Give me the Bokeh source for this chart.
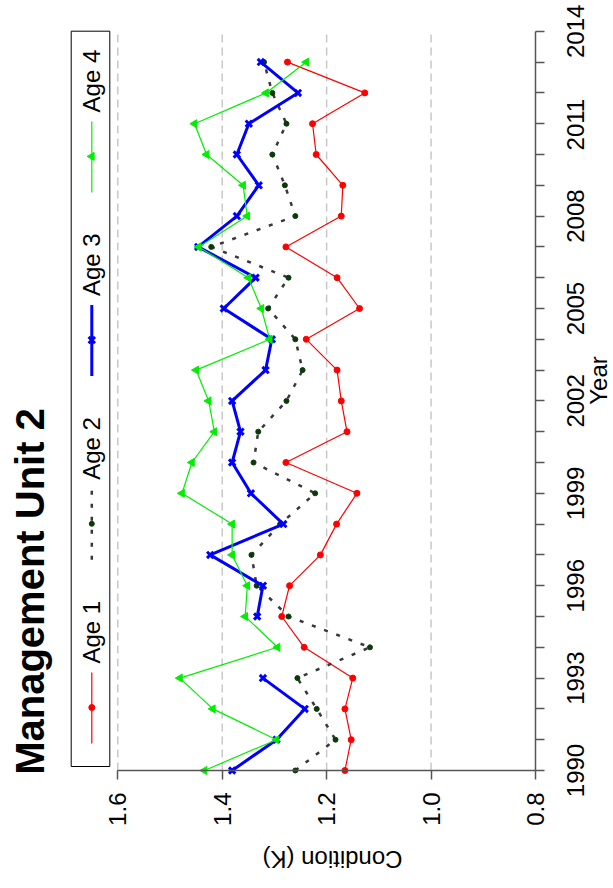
import numpy as np
from bokeh.plotting import figure
from bokeh.models import (Range1d, LinearAxis, FixedTicker, Label, NumeralTickFormatter,
                          CustomJSTickFormatter)
from bokeh.core.properties import value
from bokeh.embed import file_html
from bokeh.resources import INLINE

# ---------------- data ----------------
years = list(range(1990, 2014))
age1 = [1.165, 1.153, 1.165, 1.150, 1.243, 1.286, 1.271, 1.212, 1.181, 1.142, 1.278, 1.161,
        1.172, 1.180, 1.239, 1.137, 1.180, 1.278, 1.172, 1.169, 1.220, 1.227, 1.127, 1.275]
age2 = [1.260, 1.183, 1.219, 1.256, 1.117, 1.273, 1.334, 1.344, 1.289, 1.222, 1.340, 1.331,
        1.277, 1.246, 1.260, 1.312, 1.273, 1.421, 1.260, 1.280, 1.304, 1.277, 1.304, 1.320]
age3 = [1.381, 1.296, 1.242, 1.322, float("nan"), 1.333, 1.322, 1.423, 1.283, 1.345, 1.381, 1.365,
        1.381, 1.317, 1.305, 1.397, 1.336, 1.446, 1.372, 1.330, 1.372, 1.349, 1.255, 1.326]
age4 = [1.434, 1.296, 1.418, 1.481, 1.294, 1.356, 1.352, 1.381, 1.381, 1.477, 1.458, 1.415,
        1.426, 1.450, 1.309, 1.325, 1.350, 1.445, 1.352, 1.360, 1.430, 1.453, 1.316, 1.239]
series_names = ["Age 1", "Age 2", "Age 3", "Age 4"]
cond_ticks = [0.8, 1.0, 1.2, 1.4, 1.6]
grid_vals = [1.0, 1.2, 1.4, 1.6]
year_labels = [1990, 1993, 1996, 1999, 2002, 2005, 2008, 2011, 2014]
year_ticks = list(range(1990, 2015))
title_text = "Management Unit 2"
xlab_text = "Year"
ylab_text = "Condition (K)"

# ---------------- layout helpers (canvas pixels -> data) ----------------
W, H = 613, 888
PX_16, PX_PER_K = 117.3, 522.1
PY_1990, PY_PER_YEAR = 770.0, 30.8


def kx(px):
    return 1.6 - (px - PX_16) / PX_PER_K


def yy(py):
    return 1990 + (PY_1990 - py) / PY_PER_YEAR


# the plotting frame covers the whole canvas; axes are pinned with fixed_location
p = figure(width=W, height=H, output_backend="svg", toolbar_location=None,
           x_range=Range1d(kx(0), kx(W)), y_range=Range1d(yy(H), yy(0)),
           x_axis_location=None, y_axis_location=None,
           min_border_left=0, min_border_right=0, min_border_top=0, min_border_bottom=0)
p.grid.grid_line_color = None
p.outline_line_color = None
p.background_fill_color = "white"
p.border_fill_color = "white"

FONT = "Liberation Sans"
AX = "#555555"


def style_axis(ax, standoff, tick_out):
    ax.axis_line_color = AX
    ax.axis_line_width = 1.5
    ax.major_tick_line_color = AX
    ax.major_tick_line_width = 1.5
    ax.minor_tick_line_color = None
    ax.major_tick_in = 0
    ax.major_tick_out = tick_out
    ax.major_label_text_font = FONT
    ax.major_label_text_font_size = "24px"
    ax.major_label_text_color = "black"
    ax.major_label_orientation = np.pi / 2
    ax.major_label_standoff = standoff


# Condition axis (drawn along the bottom)
xaxis = LinearAxis(ticker=FixedTicker(ticks=cond_ticks), bounds=(0.8, 1.6),
                   formatter=NumeralTickFormatter(format="0.0"), fixed_location=1990)
style_axis(xaxis, 13, 9)
p.add_layout(xaxis, "below")

# Year axis: line + a tick for every year
yaxis = LinearAxis(ticker=FixedTicker(ticks=year_ticks), bounds=(1990, 2014),
                   formatter=CustomJSTickFormatter(code="return '';"), fixed_location=0.8)
style_axis(yaxis, 0, 9)
p.add_layout(yaxis, "right")

# Year labels every 3 years, centred on their ticks (text runs upward from its anchor)
half_label = 26.7 / PY_PER_YEAR
ylab_axis = LinearAxis(ticker=FixedTicker(ticks=[y - half_label for y in year_labels]),
                       formatter=CustomJSTickFormatter(
                           code="return Math.round(tick + %r).toFixed(0);" % half_label),
                       fixed_location=0.8)
style_axis(ylab_axis, 40, 0)
ylab_axis.axis_line_color = None
ylab_axis.major_tick_line_color = None
p.add_layout(ylab_axis, "right")

# dashed grid lines
p.segment(x0=grid_vals, y0=[1990] * len(grid_vals), x1=grid_vals, y1=[2014] * len(grid_vals),
          line_color="#c8c8c8", line_dash="8 5", line_width=1.5)

# series styles
RED, DG, DOT, BLUE, GREEN = "#ff0000", "#0a3a0a", "#383838", "#0000ff", "#00ee00"

p.line(age1, years, line_color=RED, line_width=1.2)
p.scatter(age1, years, marker="circle", size=6, color=RED)

p.line(age2, years, line_color=DOT, line_width=2.5, line_dash="4 9")
p.scatter(age2, years, marker="circle", size=5, color=DG)

p.line(age3, years, line_color=BLUE, line_width=3)
p.scatter(age3, years, marker="x", size=9, line_color=BLUE, line_width=3)

p.line(age4, years, line_color=GREEN, line_width=1.2)
p.scatter(age4, years, marker="triangle", size=8, angle=np.pi / 2, color=GREEN)

# legend (drawn rotated, like the reference)
p.quad(left=kx(70.7), right=kx(109.3), bottom=yy(766), top=yy(30.7),
       fill_color="white", line_color="black", line_width=1)
styles = [
    dict(lc=RED, lw=1.2, dash="solid", marker="circle", mc=RED, ms=6),
    dict(lc=DOT, lw=2.5, dash="4 9", marker="circle", mc=DG, ms=5),
    dict(lc=BLUE, lw=3, dash="solid", marker="x", mc=BLUE, ms=9),
    dict(lc=GREEN, lw=1.2, dash="solid", marker="triangle", mc=GREEN, ms=8),
]
for i, (name, st) in enumerate(zip(series_names, styles)):
    my = 707 - 183.7 * i
    lx = kx(91.3)
    p.line([lx, lx], [yy(my + 36), yy(my - 35)], line_color=st["lc"], line_width=st["lw"],
           line_dash=st["dash"])
    if st["marker"] == "x":
        p.scatter([lx], [yy(my)], marker="x", size=st["ms"], line_color=st["mc"], line_width=3)
    elif st["marker"] == "triangle":
        p.scatter([lx], [yy(my)], marker="triangle", size=st["ms"], angle=np.pi / 2, color=st["mc"])
    else:
        p.scatter([lx], [yy(my)], marker="circle", size=st["ms"], color=st["mc"])
    p.text(x=[kx(91)], y=[yy(my - 44)], text=[name], angle=np.pi / 2,
           text_align="left", text_baseline="middle",
           text_font=value(FONT), text_font_size="24px", text_color="black")

# titles
p.add_layout(Label(x=kx(29), y=yy(591), text=title_text, angle=np.pi / 2,
                   text_align="center", text_baseline="middle",
                   text_font=FONT, text_font_size="40px", text_font_style="bold",
                   text_color="black"))
p.add_layout(Label(x=kx(332), y=yy(859), text=ylab_text, angle=np.pi,
                   text_align="center", text_baseline="middle",
                   text_font=FONT, text_font_size="24px", text_color="black"))
p.add_layout(Label(x=kx(598), y=yy(380), text=xlab_text, angle=np.pi / 2,
                   text_align="center", text_baseline="middle",
                   text_font=FONT, text_font_size="24px", text_color="black"))

open("out.html", "w").write(file_html(p, INLINE))
